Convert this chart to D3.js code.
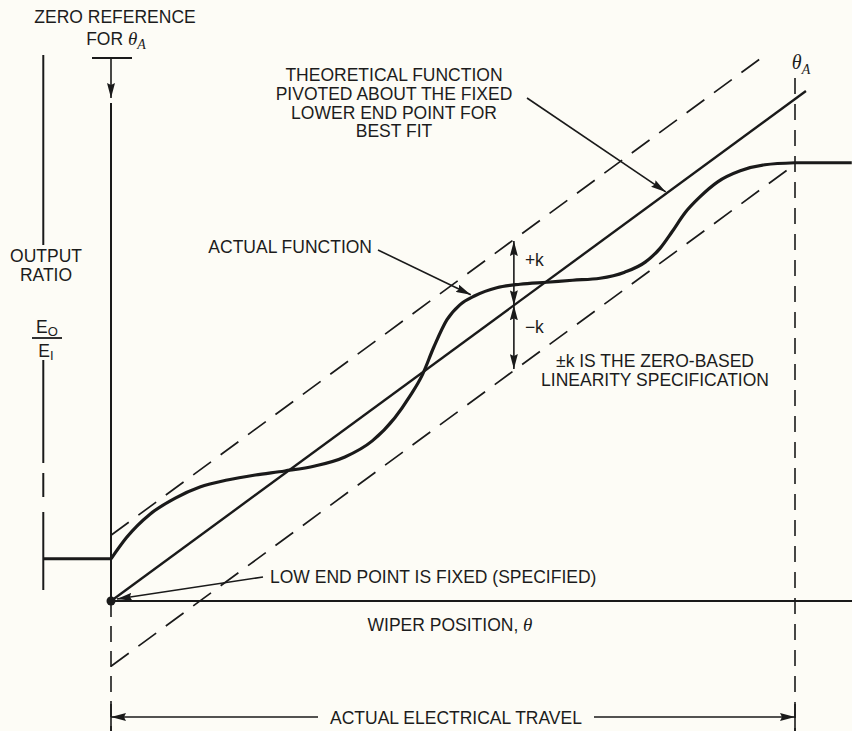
<!DOCTYPE html>
<html>
<head>
<meta charset="utf-8">
<script src="https://cdn.jsdelivr.net/npm/d3@7"></script>
<style>
  body { margin: 0; background: #fdfcf6; }
  text { font-family: "Liberation Sans", Arial, sans-serif; font-size: 17.5px; fill: #1c1c1c; }
  .serif { font-family: "Liberation Serif", "DejaVu Serif", serif; font-style: italic; }
</style>
</head>
<body>
<div id="chart"></div>
<script>
var width = 852;
var height = 731;

// wiper position (theta, 0 = low end, 1 = theta A) and output ratio of the actual function
var actualTheta = [0, 0.023, 0.057, 0.094, 0.130, 0.170, 0.211, 0.254, 0.298, 0.342, 0.382, 0.415, 0.437, 0.455,
                   0.472, 0.491, 0.510, 0.532, 0.564, 0.598, 0.637, 0.675, 0.715, 0.751, 0.781, 0.803, 0.820,
                   0.839, 0.861, 0.887, 0.920, 0.956, 1.0];
var actualRatio = [0.084, 0.127, 0.173, 0.205, 0.227, 0.241, 0.251, 0.259, 0.269, 0.287, 0.319, 0.365, 0.408, 0.450,
                   0.506, 0.560, 0.590, 0.608, 0.624, 0.631, 0.635, 0.639, 0.643, 0.655, 0.675, 0.703, 0.735,
                   0.773, 0.805, 0.835, 0.857, 0.869, 0.873];

// flat parts of the actual function outside the electrical travel
var leftStubTheta = [-0.099, 0];
var rightStubTheta = [1.0, 1.083];

var theoreticalTheta = [0, 1.016];
var theoreticalRatio = [0, 1.016];

// +k / -k limit lines (dashed)
var upperTheta = [0, 0.953];
var upperRatio = [0.131, 1.084];
var lowerTheta = [0, 1.0];
var lowerRatio = [-0.13, 0.87];

var kTheta = 0.589;          // where the +k / -k arrows sit
var outputAxisTheta = -0.099; // the output ratio axis on the left

var x = d3.scaleLinear().domain([0, 1]).range([111, 795]);
var y = d3.scaleLinear().domain([0, 1]).range([601, 99]);

function zip(a, b) {
    return a.map(function (d, i) { return [d, b[i]]; });
}

var line = d3.line()
    .x(function (d) { return x(d[0]); })
    .y(function (d) { return y(d[1]); });

var svg = d3.select("#chart")
    .append("svg")
    .attr("width", width)
    .attr("height", height)
    .style("background", "#fdfcf6");

var ink = "#1a1a1a";

var defs = svg.append("defs");
defs.append("marker")
    .attr("id", "head")
    .attr("viewBox", "0 0 15 8")
    .attr("refX", 15)
    .attr("refY", 4)
    .attr("markerWidth", 15)
    .attr("markerHeight", 8)
    .attr("markerUnits", "userSpaceOnUse")
    .attr("orient", "auto-start-reverse")
    .append("path")
    .attr("d", "M0,0 L15,4 L0,8 L2,4 z")
    .attr("fill", ink);

// ---- axes ----
var zeroX = x(0);
var endX = x(1);

// zero reference line (solid above axis, dashed below)
svg.append("line").attr("x1", zeroX).attr("x2", zeroX).attr("y1", 103).attr("y2", y(0))
    .attr("stroke", ink).attr("stroke-width", 2);
svg.append("line").attr("x1", zeroX).attr("x2", zeroX).attr("y1", y(0)).attr("y2", 731)
    .attr("stroke", ink).attr("stroke-width", 1.6).attr("stroke-dasharray", "16,9");

// T bar and arrow for zero reference
svg.append("line").attr("x1", zeroX - 19).attr("x2", zeroX + 21).attr("y1", 58).attr("y2", 58)
    .attr("stroke", ink).attr("stroke-width", 2);
svg.append("line").attr("x1", zeroX).attr("x2", zeroX).attr("y1", 58).attr("y2", 98)
    .attr("stroke", ink).attr("stroke-width", 1.6).attr("marker-end", "url(#head)");

// theta A dashed line
svg.append("line").attr("x1", endX).attr("x2", endX).attr("y1", 78).attr("y2", 731)
    .attr("stroke", ink).attr("stroke-width", 1.6).attr("stroke-dasharray", "16,10");

// wiper position axis
svg.append("line").attr("x1", zeroX).attr("x2", width).attr("y1", y(0)).attr("y2", y(0))
    .attr("stroke", ink).attr("stroke-width", 2);

// output ratio axis
var ax = x(outputAxisTheta);
[[55, 245], [360, 463], [473, 497], [512, 590]].forEach(function (s) {
    svg.append("line").attr("x1", ax).attr("x2", ax).attr("y1", s[0]).attr("y2", s[1])
        .attr("stroke", ink).attr("stroke-width", 2);
});

// ---- limit lines ----
svg.append("path").attr("d", line(zip(upperTheta, upperRatio)))
    .attr("fill", "none").attr("stroke", ink).attr("stroke-width", 1.7).attr("stroke-dasharray", "22,12");
svg.append("path").attr("d", line(zip(lowerTheta, lowerRatio)))
    .attr("fill", "none").attr("stroke", ink).attr("stroke-width", 1.7).attr("stroke-dasharray", "22,12");

// ---- theoretical function ----
svg.append("path").attr("d", line(zip(theoreticalTheta, theoreticalRatio)))
    .attr("fill", "none").attr("stroke", ink).attr("stroke-width", 2.4);

// ---- actual function ----
var curve = d3.line()
    .x(function (d) { return x(d[0]); })
    .y(function (d) { return y(d[1]); })
    .curve(d3.curveMonotoneX);
svg.append("path").attr("d", curve(zip(actualTheta, actualRatio)))
    .attr("fill", "none").attr("stroke", ink).attr("stroke-width", 3.2);

var r0 = actualRatio[0];
var r1 = actualRatio[actualRatio.length - 1];
svg.append("path").attr("d", line(zip(leftStubTheta, [r0, r0])))
    .attr("fill", "none").attr("stroke", ink).attr("stroke-width", 3);
svg.append("path").attr("d", line(zip(rightStubTheta, [r1, r1])))
    .attr("fill", "none").attr("stroke", ink).attr("stroke-width", 3.2);

// low end point dot
svg.append("circle").attr("cx", x(0)).attr("cy", y(0)).attr("r", 4.5).attr("fill", ink);

// ---- +k / -k arrows ----
var kLine = kTheta; // theoretical ratio equals theta
svg.append("line").attr("x1", x(kTheta)).attr("x2", x(kTheta))
    .attr("y1", y(kLine)).attr("y2", y(kTheta + 0.131 - 0.003))
    .attr("stroke", ink).attr("stroke-width", 1.6)
    .attr("marker-start", "url(#head)").attr("marker-end", "url(#head)");
svg.append("line").attr("x1", x(kTheta)).attr("x2", x(kTheta))
    .attr("y1", y(kLine)).attr("y2", y(kTheta - 0.13 + 0.003))
    .attr("stroke", ink).attr("stroke-width", 1.6)
    .attr("marker-start", "url(#head)").attr("marker-end", "url(#head)");

svg.append("text").attr("x", x(kTheta) + 11).attr("y", 266).text("+k");
svg.append("text").attr("x", x(kTheta) + 11).attr("y", 333).text("\u2212k");

// ---- text labels ----
function label(tx, ty, str, anchor) {
    return svg.append("text").attr("x", tx).attr("y", ty + 6.3)
        .attr("text-anchor", anchor || "middle").text(str);
}

label(115, 17, "ZERO REFERENCE");
var forT = svg.append("text").attr("x", 116).attr("y", 45).attr("text-anchor", "middle");
forT.append("tspan").text("FOR ");
forT.append("tspan").attr("class", "serif").style("font-size", "19px").text("\u03b8");
forT.append("tspan").attr("class", "serif").style("font-size", "14px").attr("dy", 4).text("A");

var thA = svg.append("text").attr("x", endX + 6).attr("y", 69).attr("text-anchor", "middle");
thA.append("tspan").attr("class", "serif").style("font-size", "20px").text("\u03b8");
thA.append("tspan").attr("class", "serif").style("font-size", "14px").attr("dy", 5).text("A");

["THEORETICAL FUNCTION", "PIVOTED ABOUT THE FIXED", "LOWER END POINT FOR", "BEST FIT"]
    .forEach(function (s, i) { label(394, 75 + i * 18.6, s); });

label(372, 247, "ACTUAL FUNCTION", "end");

label(655, 361, "\u00b1k IS THE ZERO-BASED");
label(655, 380, "LINEARITY SPECIFICATION");

label(270, 577, "LOW END POINT IS FIXED (SPECIFIED)", "start");

var wp = svg.append("text").attr("x", 450).attr("y", 630.5).attr("text-anchor", "middle");
wp.append("tspan").text("WIPER POSITION, ");
wp.append("tspan").attr("class", "serif").style("font-size", "19px").text("\u03b8");

label(46, 256, "OUTPUT");
label(46, 275, "RATIO");

// E0 / EI fraction
var eo = svg.append("text").attr("x", 47).attr("y", 333).attr("text-anchor", "middle");
eo.append("tspan").text("E");
eo.append("tspan").style("font-size", "13px").attr("dy", 3).text("O");
svg.append("line").attr("x1", 32).attr("x2", 62).attr("y1", 338).attr("y2", 338)
    .attr("stroke", ink).attr("stroke-width", 1.8);
var ei = svg.append("text").attr("x", 46).attr("y", 357).attr("text-anchor", "middle");
ei.append("tspan").text("E");
ei.append("tspan").style("font-size", "13px").attr("dy", 3).text("I");

// ---- pointer arrows ----
function pointer(x1, y1, x2, y2) {
    svg.append("line").attr("x1", x1).attr("y1", y1).attr("x2", x2).attr("y2", y2)
        .attr("stroke", ink).attr("stroke-width", 1.6).attr("marker-end", "url(#head)");
}
pointer(527, 98, x(0.811), y(0.811) - 2);
pointer(378, 250, x(0.526), y(0.606) - 2);
pointer(263, 577, x(0) + 6, y(0) - 2);

// ---- actual electrical travel dimension ----
var dimY = 717;
svg.append("line").attr("x1", zeroX).attr("x2", 318).attr("y1", dimY).attr("y2", dimY)
    .attr("stroke", ink).attr("stroke-width", 1.6).attr("marker-start", "url(#head)");
svg.append("line").attr("x1", 594).attr("x2", endX).attr("y1", dimY).attr("y2", dimY)
    .attr("stroke", ink).attr("stroke-width", 1.6).attr("marker-end", "url(#head)");
svg.append("line").attr("x1", zeroX).attr("x2", zeroX).attr("y1", 704).attr("y2", 731)
    .attr("stroke", ink).attr("stroke-width", 1.6);
svg.append("line").attr("x1", endX).attr("x2", endX).attr("y1", 704).attr("y2", 731)
    .attr("stroke", ink).attr("stroke-width", 1.6);
label(456, 718, "ACTUAL ELECTRICAL TRAVEL");
</script>
</body>
</html>
